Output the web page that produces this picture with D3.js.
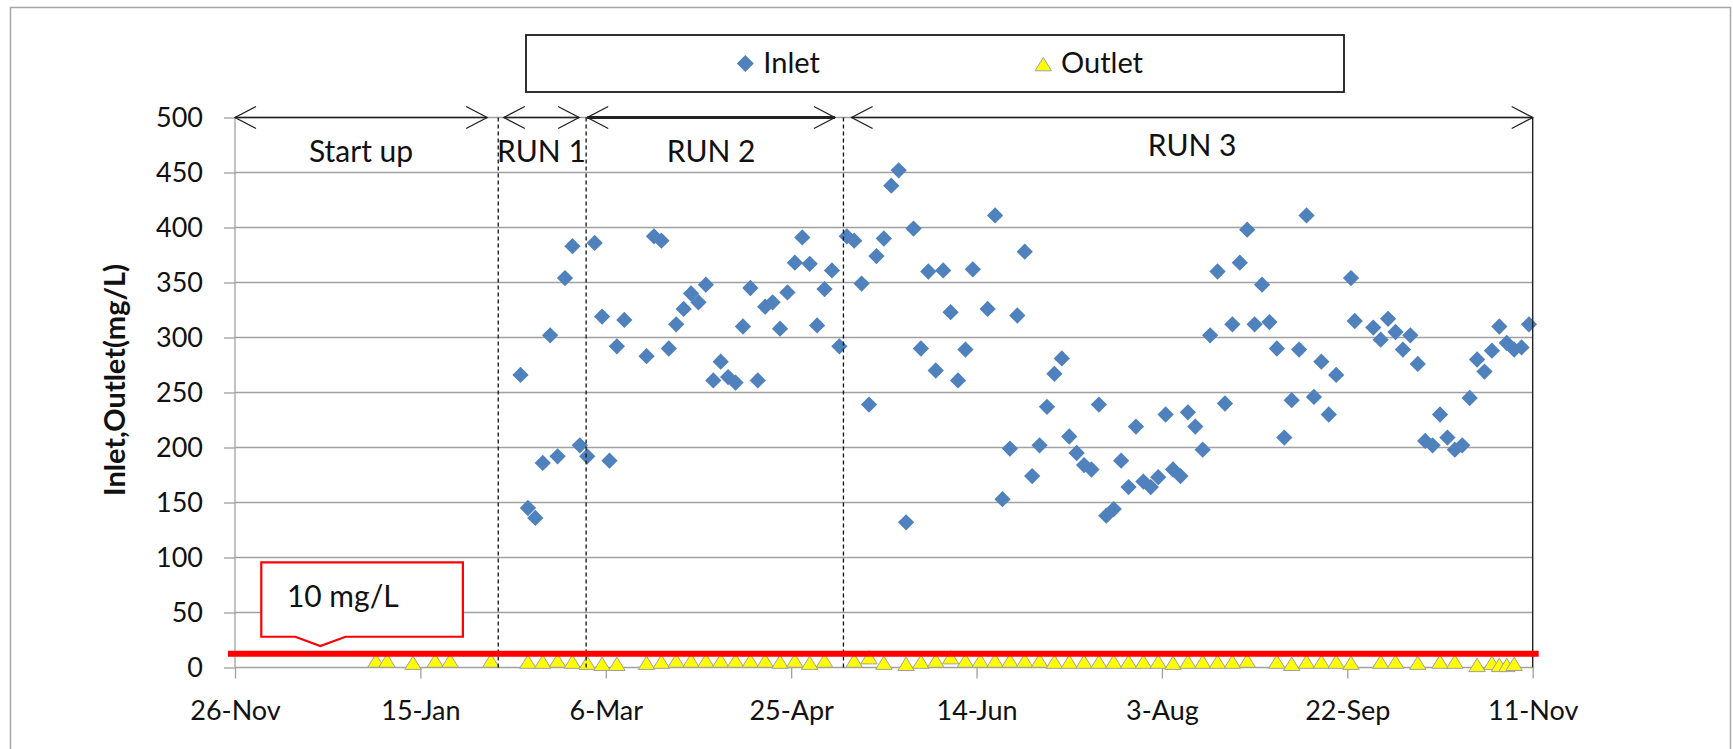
<!DOCTYPE html>
<html>
<head>
<meta charset="utf-8">
<script src="https://cdn.jsdelivr.net/npm/d3@7"></script>
<style>
body { margin: 0; background: #fff; }
text { font-family: Lato, "Open Sans", sans-serif; fill: #111; }
</style>
</head>
<body>
<svg id="chart" width="1733" height="749"></svg>
<script>
// sampling days, counted from 26-Nov-2012
var inletDay = [77,79,81,83,85,87,89,91,93,95,97,99,101,103,105,
  111,113,115,117,119,121,123,125,127,129,131,133,135,137,139,141,143,145,147,149,151,153,155,157,159,161,163,165,167,169,171,173,175,177,179,181,183,185,187,189,191,193,195,197,199,
  203,205,207,209,211,213,215,217,219,221,223,225,227,229,231,233,235,237,239,241,243,245,247,249,251,253,255,257,259,261,263,265,267,269,271,273,275,277,279,281,283,285,287,289,291,293,295,297,
  301,302,307,309,311,313,315,317,319,321,323,325,327,329,331,333,335,337,339,341,343,345,347,349];
var inletVal = [266,145,136,186,302,192,354,383,202,192,386,319,188,292,316,
  283,392,388,290,312,326,340,332,348,261,278,264,259,310,345,261,328,332,308,341,368,391,367,311,344,361,292,392,388,349,239,374,390,438,452,132,399,290,360,270,361,323,261,289,362,
  326,411,153,199,320,378,174,202,237,267,281,210,195,184,180,239,138,144,188,164,219,169,164,173,230,180,174,232,219,198,302,360,240,312,368,398,312,348,314,290,209,243,289,411,246,278,230,266,
  354,315,309,298,317,305,289,302,276,206,202,230,209,198,202,245,280,269,288,310,295,289,291,312];

var outletDay = [38,41,48,54,58,69,79,83,87,91,95,99,103,
  111,115,119,123,127,131,135,139,143,147,151,155,159,
  167,171,175,181,185,189,193,197,201,205,209,213,217,221,225,229,233,237,241,245,249,253,257,261,265,269,273,
  281,285,289,293,297,301,309,313,319,325,329,335,339,341,343,345];
var outletVal = [6,6,4,6,6,6,5,5,6,5,4,3,3,
  4,5,6,6,6,6,6,6,6,5,6,4,6,
  6,9,4,3,5,6,9,6,6,6,6,6,6,5,5,5,5,5,5,5,5,4,5,5,5,5,6,
  5,3,5,5,5,4,5,5,4,5,5,2,4,2,2,3];

var tickDates = ["2012-11-26","2013-01-15","2013-03-06","2013-04-25","2013-06-14","2013-08-03","2013-09-22","2013-11-11"];
var yTicks = [0,50,100,150,200,250,300,350,400,450,500];
var seriesNames = ["Inlet", "Outlet"];

// operating phases (days from start)
var runNames = ["Start up", "RUN 1", "RUN 2", "RUN 3"];
var runFrom = [0, 72.5, 95, 166.3];
var runTo = [68, 92.8, 161.8, 350];
var runSplits = [71, 94.7, 164.1];

var limitVal = 12.5;
var limitText = "10 mg/L";

var svg = d3.select("#chart"),
    margin = {top: 117.5, right: 200.3, bottom: 81.5, left: 235},
    width = +svg.attr("width") - margin.left - margin.right,
    height = +svg.attr("height") - margin.top - margin.bottom;

var parse = d3.utcParse("%Y-%m-%d");
var start = parse(tickDates[0]);
function dayDate(d) { return new Date(start.getTime() + d * 864e5); }

var x = d3.scaleUtc().domain([start, parse(tickDates[tickDates.length - 1])]).range([0, width]),
    y = d3.scaleLinear().domain([0, 500]).range([height, 0]);

// chart area border
svg.append("rect")
    .attr("x", 10.5).attr("y", 7.5)
    .attr("width", 1720).attr("height", 780)
    .attr("fill", "none").attr("stroke", "#a6a6a6").attr("stroke-width", 1.5);

var g = svg.append("g")
    .attr("transform", "translate(" + margin.left + "," + margin.top + ")");

// gridlines
g.selectAll(".grid")
    .data(yTicks)
  .enter().append("line")
    .attr("class", "grid")
    .attr("x1", 0).attr("x2", width)
    .attr("y1", function(d) { return y(d); })
    .attr("y2", function(d) { return y(d); })
    .attr("stroke", "#a0a0a0").attr("stroke-width", 1.3);

// y axis
var yAxis = g.append("g")
    .call(d3.axisLeft(y).tickValues(yTicks).tickSize(11).tickPadding(21));
yAxis.select(".domain").remove();
yAxis.selectAll("line").attr("stroke", "#a0a0a0").attr("stroke-width", 1.3);
yAxis.selectAll("text").attr("font-size", 27).attr("font-family", "Lato").attr("fill", "#111");

g.append("line")
    .attr("x1", 0).attr("x2", 0).attr("y1", 0).attr("y2", height)
    .attr("stroke", "#a0a0a0").attr("stroke-width", 1.3);

// x axis
var xAxis = g.append("g")
    .attr("transform", "translate(0," + height + ")")
    .call(d3.axisBottom(x)
      .tickValues(tickDates.map(parse))
      .tickFormat(d3.utcFormat("%-d-%b"))
      .tickSize(11).tickPadding(22));
xAxis.select(".domain").remove();
xAxis.selectAll("line").attr("stroke", "#a0a0a0").attr("stroke-width", 1.3);
xAxis.selectAll("text").attr("font-size", 27).attr("font-family", "Lato").attr("fill", "#111");

// y axis title
svg.append("text")
    .attr("transform", "translate(125,380) rotate(-90)")
    .attr("text-anchor", "middle")
    .attr("font-size", 29)
    .attr("font-weight", "bold")
    .text("Inlet,Outlet(mg/L)");

// inlet diamonds
g.selectAll(".inlet")
    .data(inletDay)
  .enter().append("rect")
    .attr("class", "inlet")
    .attr("width", 11.5).attr("height", 11.5)
    .attr("x", -5.75).attr("y", -5.75)
    .attr("transform", function(d, i) {
      return "translate(" + x(dayDate(d)) + "," + y(inletVal[i]) + ") rotate(45)";
    })
    .attr("fill", "#4f81bd");

// outlet triangles
var tri = "M0,-7L8.2,6.3L-8.2,6.3Z";
g.selectAll(".outlet")
    .data(outletDay)
  .enter().append("path")
    .attr("class", "outlet")
    .attr("d", tri)
    .attr("transform", function(d, i) {
      return "translate(" + x(dayDate(d)) + "," + y(outletVal[i]) + ")";
    })
    .attr("fill", "#ffff00").attr("stroke", "#a0a0a0").attr("stroke-width", 1);

// phase dividers
g.selectAll(".split")
    .data(runSplits)
  .enter().append("line")
    .attr("x1", function(d) { return x(dayDate(d)); })
    .attr("x2", function(d) { return x(dayDate(d)); })
    .attr("y1", y(500)).attr("y2", y(0))
    .attr("stroke", "#111").attr("stroke-width", 1.3)
    .attr("stroke-dasharray", "4,3");

g.append("line")
    .attr("x1", width).attr("x2", width).attr("y1", y(500)).attr("y2", y(0))
    .attr("stroke", "#222").attr("stroke-width", 1.4);

// phase arrows and names
runNames.forEach(function(name, i) {
  var x0 = x(dayDate(runFrom[i])), x1 = x(dayDate(runTo[i])), yy = y(500);
  g.append("line")
      .attr("x1", x0).attr("x2", x1).attr("y1", yy).attr("y2", yy)
      .attr("stroke", "#222").attr("stroke-width", i == 2 ? 2.8 : 1.4);
  g.append("path")
      .attr("d", "M" + (x0 + 21) + "," + (yy - 11) + "L" + x0 + "," + yy + "L" + (x0 + 21) + "," + (yy + 11) +
                 "M" + (x1 - 21) + "," + (yy - 11) + "L" + x1 + "," + yy + "L" + (x1 - 21) + "," + (yy + 11))
      .attr("fill", "none").attr("stroke", "#222").attr("stroke-width", 1.3);
  g.append("text")
      .attr("x", (x0 + x1) / 2)
      .attr("y", yy + (i == 3 ? 38.5 : 44.5))
      .attr("text-anchor", "middle")
      .attr("font-size", 30)
      .text(name);
});

// limit line
g.append("line")
    .attr("x1", -7).attr("x2", width + 6)
    .attr("y1", y(limitVal)).attr("y2", y(limitVal))
    .attr("stroke", "#ff0000").attr("stroke-width", 6);

// callout pointing at the limit
var tx = x(dayDate(23)), ty = y(19.5);
g.append("path")
    .attr("d", "M" + (tx - 59) + "," + (ty - 83.7) + "H" + (tx + 142.6) + "V" + (ty - 9.3) +
               "H" + (tx + 25.3) + "L" + tx + "," + ty + "L" + (tx - 25) + "," + (ty - 9.3) +
               "H" + (tx - 59) + "Z")
    .attr("fill", "#fff").attr("stroke", "#ff0000").attr("stroke-width", 2.2);
g.append("text")
    .attr("x", tx - 33.4).attr("y", ty - 39.3)
    .attr("font-size", 30)
    .text(limitText);

// legend
var legend = svg.append("g");
legend.append("rect")
    .attr("x", 526).attr("y", 35).attr("width", 818).attr("height", 57)
    .attr("fill", "#fff").attr("stroke", "#1a1a1a").attr("stroke-width", 1.8);
legend.append("rect")
    .attr("x", -6).attr("y", -6).attr("width", 12).attr("height", 12)
    .attr("transform", "translate(745.3,63.5) rotate(45)")
    .attr("fill", "#4f81bd");
legend.append("path")
    .attr("d", tri)
    .attr("transform", "translate(1043.3,64.5)")
    .attr("fill", "#ffff00").attr("stroke", "#a0a0a0").attr("stroke-width", 1);
legend.selectAll(".ltext")
    .data(seriesNames)
  .enter().append("text")
    .attr("x", function(d, i) { return i == 0 ? 763.3 : 1061; })
    .attr("y", 73)
    .attr("font-size", 29)
    .text(function(d) { return d; });
</script>
</body>
</html>
